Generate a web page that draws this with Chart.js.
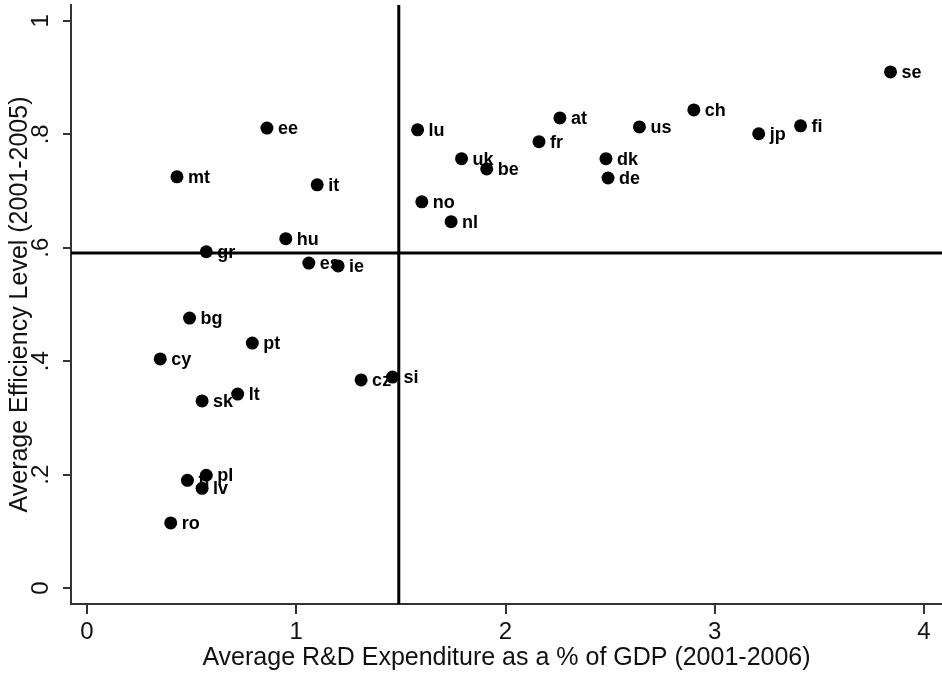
<!DOCTYPE html>
<html>
<head>
<meta charset="utf-8">
<script src="https://cdn.jsdelivr.net/npm/chart.js@4/dist/chart.umd.min.js"></script>
<style>
  html, body { margin: 0; padding: 0; background: #fff; }
  canvas { display: block; }
</style>
</head>
<body>
<canvas id="chart" width="942" height="675"></canvas>
<script>
// country codes and values
const countries = ['se', 'ch', 'at', 'fi', 'us', 'ee', 'lu', 'jp', 'fr', 'uk', 'be', 'dk', 'de', 'mt', 'it', 'no',
  'nl', 'hu', 'gr', 'es', 'ie', 'bg', 'pt', 'cy', 'cz', 'si', 'lt', 'sk', 'pl', 'lv', 'tr', 'ro'];
const rdExpenditure = [3.84, 2.90, 2.26, 3.41, 2.64, 0.86, 1.58, 3.21, 2.16, 1.79, 1.91, 2.48, 2.49, 0.43, 1.10, 1.60,
  1.74, 0.95, 0.57, 1.06, 1.20, 0.49, 0.79, 0.35, 1.31, 1.46, 0.72, 0.55, 0.57, 0.55, 0.48, 0.40];
const efficiency = [0.910, 0.843, 0.829, 0.815, 0.813, 0.811, 0.808, 0.801, 0.787, 0.757, 0.739, 0.757, 0.723, 0.725, 0.711, 0.681,
  0.646, 0.616, 0.593, 0.573, 0.568, 0.476, 0.432, 0.404, 0.367, 0.372, 0.342, 0.330, 0.199, 0.176, 0.190, 0.115];

const xTicks = [0, 1, 2, 3, 4];
const yTicks = [0, 0.2, 0.4, 0.6, 0.8, 1];
const yTickLabels = ['0', '.2', '.4', '.6', '.8', '1'];

// mean lines
const meanRd = 1.49;
const meanEff = 0.591;

const xRange = [-0.0765, 4.086];
const yRange = [-0.028, 1.028];

const FONT = "'Liberation Sans', Arial, sans-serif";

const points = countries.map((c, i) => ({ x: rdExpenditure[i], y: efficiency[i] }));

// country labels sit under the dots, like the original
const pointLabels = {
    id: 'pointLabels',
    beforeDatasetsDraw(chart) {
        const ctx = chart.ctx;
        const meta = chart.getDatasetMeta(0);
        ctx.save();
        ctx.font = 'bold 18px ' + FONT;
        ctx.fillStyle = '#000';
        ctx.textBaseline = 'middle';
        ctx.textAlign = 'left';
        meta.data.forEach((pt, i) => {
            ctx.fillText(countries[i], pt.x + 11, pt.y + 1);
        });
        ctx.restore();
    }
};

// y tick labels are rotated in the original
const yTickText = {
    id: 'yTickText',
    afterDraw(chart) {
        const ctx = chart.ctx;
        const y = chart.scales.y;
        ctx.save();
        ctx.font = '24px ' + FONT;
        ctx.fillStyle = '#111';
        ctx.textAlign = 'center';
        ctx.textBaseline = 'middle';
        yTicks.forEach((v, i) => {
            ctx.save();
            ctx.translate(41, y.getPixelForValue(v));
            ctx.rotate(-Math.PI / 2);
            ctx.fillText(yTickLabels[i], 0, 0);
            ctx.restore();
        });
        ctx.restore();
    }
};

new Chart(document.getElementById('chart'), {
    type: 'scatter',
    data: {
        datasets: [
            {
                data: points,
                pointRadius: 6.5,
                pointHoverRadius: 6.5,
                pointBorderWidth: 0,
                backgroundColor: '#000',
                borderColor: '#000'
            },
            {
                data: [{ x: meanRd, y: yRange[0] }, { x: meanRd, y: yRange[1] }],
                showLine: true,
                pointRadius: 0,
                borderColor: '#000',
                borderWidth: 3
            },
            {
                data: [{ x: xRange[0], y: meanEff }, { x: xRange[1], y: meanEff }],
                showLine: true,
                pointRadius: 0,
                borderColor: '#000',
                borderWidth: 3
            }
        ]
    },
    options: {
        responsive: false,
        animation: false,
        layout: { autoPadding: false, padding: { top: 5, right: 0, left: 0, bottom: 0 } },
        plugins: {
            legend: { display: false },
            tooltip: { enabled: false }
        },
        scales: {
            x: {
                type: 'linear',
                min: xRange[0],
                max: xRange[1],
                afterBuildTicks: s => { s.ticks = xTicks.map(v => ({ value: v })); },
                afterFit: s => { s.height = 71; },
                border: { display: true, color: '#333', width: 2 },
                grid: { drawOnChartArea: false, drawTicks: true, tickLength: 10, color: '#333', lineWidth: 2 },
                ticks: {
                    padding: 6,
                    maxRotation: 0,
                    color: '#111',
                    font: { family: FONT, size: 24, lineHeight: 1 },
                    callback: v => String(v)
                },
                title: {
                    display: true,
                    text: 'Average R&D Expenditure as a % of GDP (2001-2006)',
                    color: '#111',
                    font: { family: FONT, size: 25, lineHeight: 1 },
                    padding: { top: 0, bottom: 4 }
                }
            },
            y: {
                type: 'linear',
                min: yRange[0],
                max: yRange[1],
                afterBuildTicks: s => { s.ticks = yTicks.map(v => ({ value: v })); },
                afterFit: s => { s.width = 71; },
                border: { display: true, color: '#333', width: 2 },
                grid: { drawOnChartArea: false, drawTicks: true, tickLength: 8, color: '#333', lineWidth: 2 },
                ticks: { display: false },
                title: {
                    display: true,
                    text: 'Average Efficiency Level (2001-2005)',
                    color: '#111',
                    font: { family: FONT, size: 25, lineHeight: 1 },
                    padding: { top: 8, bottom: 0 }
                }
            }
        }
    },
    plugins: [pointLabels, yTickText]
});
</script>
</body>
</html>
